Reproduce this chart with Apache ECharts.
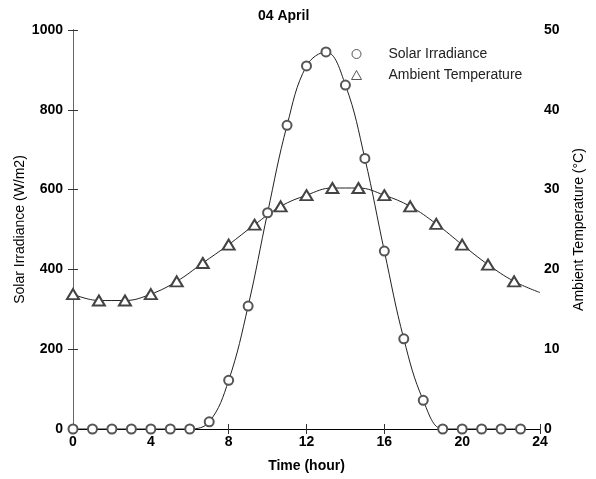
<!DOCTYPE html>
<html>
<head>
<meta charset="utf-8">
<script src="https://cdn.jsdelivr.net/npm/echarts@6/dist/echarts.min.js"></script>
<style>
html, body { margin: 0; padding: 0; background: #fff; }
#chart { width: 596px; height: 479px; }
</style>
</head>
<body>
<div id="chart"></div>
<script>
// hourly irradiance readings (W/m2)
var irrHours = [0, 1, 2, 3, 4, 5, 6, 7, 8, 9, 10, 11, 12, 13, 14, 15, 16, 17, 18, 19, 20, 21, 22, 23];
var irrValues = [0, 0, 0, 0, 0, 0, 0, 18, 122, 308, 542, 761, 910, 945, 862, 678, 446, 226, 72, 0, 0, 0, 0, 0];

// temperature readings (degC), marked every 80 minutes
var tempHours = [0, 1.33, 2.67, 4, 5.33, 6.67, 8, 9.33, 10.67, 12, 13.33, 14.67, 16, 17.33, 18.67, 20, 21.33, 22.67];
var tempValues = [16.9, 16.1, 16.1, 16.9, 18.5, 20.8, 23.1, 25.6, 27.9, 29.3, 30.2, 30.2, 29.3, 27.9, 25.7, 23.1, 20.6, 18.5];
// curve end at 24h (no marker)
var tempEnd = [24, 17.1];

var font = 'Arial, "Liberation Sans", sans-serif';

var chart = echarts.init(document.getElementById('chart'));

var irrData = irrHours.map(function (h, i) { return [h, irrValues[i]]; });
var tempData = tempHours.map(function (h, i) { return [h, tempValues[i]]; });
tempData.push({ value: tempEnd, symbol: 'none' });

function tickLabel(margin) {
    return {
        margin: margin,
        fontFamily: font,
        fontSize: 14,
        fontWeight: 'bold',
        color: '#000',
        formatter: function (v) { return String(v); }
    };
}

var option = {
    backgroundColor: '#fff',
    animation: false,
    title: {
        text: '04 April',
        left: 253,
        top: 4,
        textStyle: { fontFamily: font, fontSize: 14, fontWeight: 'bold', color: '#000' }
    },
    legend: {
        orient: 'vertical',
        left: 346,
        top: 42,
        itemWidth: 10,
        itemHeight: 9,
        itemGap: 7,
        textStyle: { fontFamily: font, fontSize: 14, color: '#222', padding: [0, 0, 0, 22] },
        data: [
            { name: 'Solar Irradiance', icon: 'circle', itemStyle: { color: '#fff', borderColor: '#555', borderWidth: 1 } },
            { name: 'Ambient Temperature', icon: 'triangle', itemStyle: { color: '#fff', borderColor: '#555', borderWidth: 1 } }
        ]
    },
    grid: { left: 73, right: 56, top: 30, bottom: 50, outerBoundsMode: 'none' },
    xAxis: [{
        type: 'value',
        min: 0,
        max: 24,
        interval: 4,
        name: 'Time (hour)',
        nameLocation: 'middle',
        nameGap: 30,
        nameMoveOverlap: false,
        nameTextStyle: { fontFamily: font, fontSize: 14, fontWeight: 'bold', color: '#000' },
        axisLine: { show: true, lineStyle: { color: '#666', width: 1 } },
        axisTick: { show: true, inside: true, length: 5, lineStyle: { color: '#333' } },
        axisLabel: tickLabel(6),
        splitLine: { show: false }
    }, {
        type: 'value',
        position: 'top',
        min: 0,
        max: 24,
        interval: 4,
        axisLine: { show: true, lineStyle: { color: '#000', width: 1 } },
        axisTick: { show: true, inside: true, length: 5, lineStyle: { color: '#333' } },
        axisLabel: { show: false },
        splitLine: { show: false }
    }],
    yAxis: [{
        type: 'value',
        min: 0,
        max: 1000,
        interval: 200,
        name: 'Solar Irradiance (W/m2)',
        nameLocation: 'middle',
        nameGap: 46,
        nameMoveOverlap: false,
        nameTextStyle: { fontFamily: font, fontSize: 14, color: '#000' },
        axisLine: { show: true, lineStyle: { color: '#000', width: 1 } },
        axisTick: { show: true, inside: true, length: 5, lineStyle: { color: '#333' } },
        axisLabel: tickLabel(10),
        splitLine: { show: false }
    }, {
        type: 'value',
        position: 'right',
        min: 0,
        max: 50,
        interval: 10,
        name: 'Ambient Temperature (°C)',
        nameLocation: 'middle',
        nameGap: 32,
        nameRotate: 90,
        nameMoveOverlap: false,
        nameTextStyle: { fontFamily: font, fontSize: 14, color: '#000' },
        axisLine: { show: true, lineStyle: { color: '#666', width: 1 } },
        axisTick: { show: true, inside: true, length: 5, lineStyle: { color: '#333' } },
        axisLabel: tickLabel(4),
        splitLine: { show: false }
    }],
    series: [
        {
            name: 'Solar Irradiance',
            type: 'line',
            xAxisIndex: 0,
            yAxisIndex: 0,
            data: irrData,
            smooth: 0.4,
            symbol: 'emptyCircle',
            symbolSize: 9,
            lineStyle: { color: '#222', width: 1 },
            itemStyle: { color: '#555', borderColor: '#555', borderWidth: 1 }
        },
        {
            name: 'Ambient Temperature',
            type: 'line',
            xAxisIndex: 0,
            yAxisIndex: 1,
            data: tempData,
            smooth: 0.4,
            symbol: 'emptyTriangle',
            symbolSize: [12, 10],
            lineStyle: { color: '#222', width: 1 },
            itemStyle: { color: '#444', borderColor: '#444', borderWidth: 1 }
        }
    ]
};

chart.setOption(option);
</script>
</body>
</html>
